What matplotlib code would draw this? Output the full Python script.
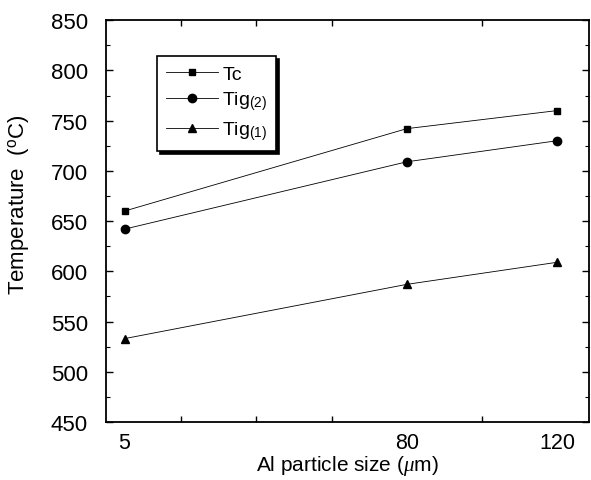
import matplotlib
matplotlib.use("Agg")
import matplotlib.pyplot as plt

# Data
sizes = [5, 80, 120]
tc = [660, 742, 760]
tig2 = [642, 709, 730]
tig1 = [533, 587, 609]
xtick_labels = ["5", "80", "120"]
ytick_vals = [450, 500, 550, 600, 650, 700, 750, 800, 850]

plt.rcParams['font.family'] = ['Liberation Sans', 'DejaVu Sans']
plt.rcParams['mathtext.fontset'] = 'custom'
plt.rcParams['mathtext.rm'] = 'Liberation Sans'
plt.rcParams['mathtext.it'] = 'Liberation Serif:italic'
plt.rcParams['mathtext.bf'] = 'Liberation Sans:bold'

fig = plt.figure(figsize=(5.91, 4.81), dpi=100)
ax = fig.add_axes([0.179, 0.1206, 0.818, 0.8354])

kw = dict(color='black', linewidth=0.6)
ax.plot(sizes, tc, marker='s', markersize=5, label='Tc', **kw)
ax.plot(sizes, tig2, marker='o', markersize=6, label='Tig$_{(2)}$', **kw)
ax.plot(sizes, tig1, marker='^', markersize=6, label='Tig$_{(1)}$', **kw)

ax.set_xlim(0, 128.5)
ax.set_ylim(450, 850)

ax.set_xticks(sizes)
ax.set_xticklabels(xtick_labels)
ax.set_xticks([20, 40, 60, 80, 100, 120], minor=True)
ax.tick_params(axis='x', which='major', length=0, pad=7, labelsize=15.5)
ax.tick_params(axis='x', which='minor', direction='in', length=4, width=1, top=True, bottom=True)

ax.set_yticks(ytick_vals)
ax.set_yticks([475, 525, 575, 625, 675, 725, 775, 825], minor=True)
ax.tick_params(axis='y', which='major', direction='in', length=5, width=1, left=True, right=True, labelsize=16, pad=13)
ax.tick_params(axis='y', which='minor', direction='in', length=3, width=0.8, left=True, right=True)

for s in ax.spines.values():
    s.set_linewidth(1.3)

ax.set_xlabel('Al particle size ($\\mu$m)', fontsize=15, labelpad=0)
ax.set_ylabel('Temperature  ($^{\\rm o}$C)', fontsize=16)
ax.yaxis.set_label_coords(-0.155, 0.542)

leg = ax.legend(loc='upper left', bbox_to_anchor=(0.106, 0.91), borderaxespad=0,
                fontsize=14, frameon=True, fancybox=False, edgecolor='black',
                shadow={'color': 'black', 'alpha': 1}, handlelength=2.7,
                labelspacing=0.35, borderpad=0.45, handletextpad=0.2)
leg.get_frame().set_linewidth(1.2)

fig.savefig('out.png', dpi=100)
